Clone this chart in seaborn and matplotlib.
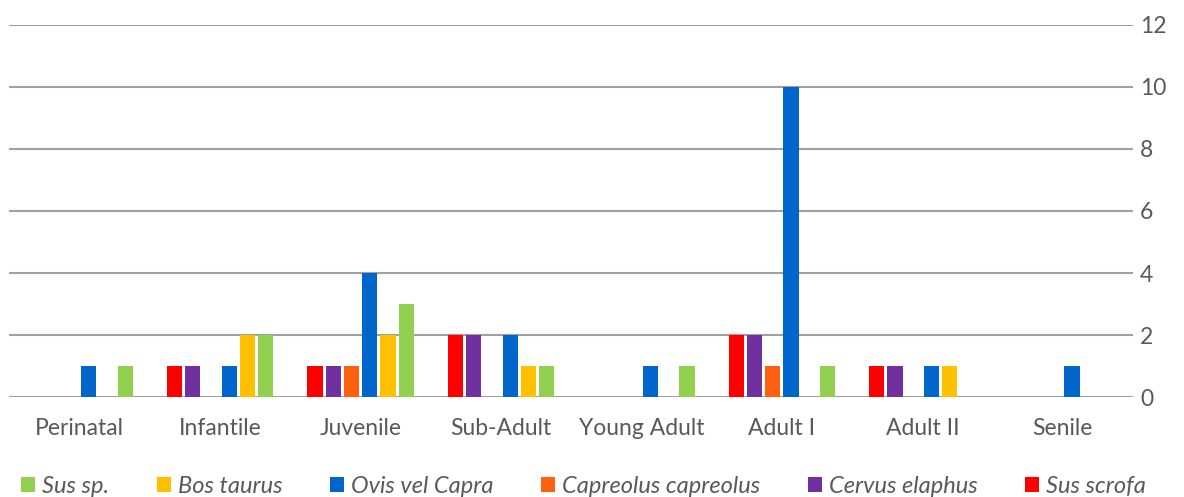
"""Age-at-death distribution by taxon - grouped bar chart."""

import matplotlib
matplotlib.use("Agg")
import matplotlib.pyplot as plt
import pandas as pd
import seaborn as sns

# stages along the x axis
stages = ["Perinatal", "Infantile", "Juvenile", "Sub-Adult",
          "Young Adult", "Adult I", "Adult II", "Senile"]

# counts per taxon (same order as stages)
sus_scrofa = [0, 1, 1, 2, 0, 2, 1, 0]
cervus_elaphus = [0, 1, 1, 2, 0, 2, 1, 0]
capreolus_capreolus = [0, 0, 1, 0, 0, 1, 0, 0]
ovis_vel_capra = [1, 1, 4, 2, 1, 10, 1, 1]
bos_taurus = [0, 2, 2, 1, 0, 0, 1, 0]
sus_sp = [1, 2, 3, 1, 1, 1, 0, 0]

taxa = ["Sus scrofa", "Cervus elaphus", "Capreolus capreolus",
        "Ovis vel Capra", "Bos taurus", "Sus sp."]
series = [sus_scrofa, cervus_elaphus, capreolus_capreolus,
          ovis_vel_capra, bos_taurus, sus_sp]
colors = ["#FF0000", "#7030A0", "#FF6010", "#0066CC", "#FFC000", "#92D050"]
y_ticks = [0, 2, 4, 6, 8, 10, 12]

rows = []
for taxon, vals in zip(taxa, series):
    for stage, v in zip(stages, vals):
        rows.append({"stage": stage, "taxon": taxon, "count": v})
df = pd.DataFrame(rows)

sns.set_style("white")
plt.rcParams["font.family"] = ["Lato", "DejaVu Sans"]
text_grey = "#595959"

fig = plt.figure(figsize=(11.84, 4.97), dpi=100)
ax = fig.add_axes([0.008, 0.201, 0.949, 0.749])

sns.barplot(data=df, x="stage", y="count", hue="taxon",
            order=stages, hue_order=taxa, palette=colors,
            width=0.78, gap=0.16, linewidth=0, saturation=1, ax=ax)

ax.set_ylim(0, 12)
ax.set_xlim(-0.5, len(stages) - 0.5)
ax.set_yticks(y_ticks)
ax.yaxis.tick_right()
ax.yaxis.grid(True, color="#A0A0A0", linewidth=1.5)
ax.set_axisbelow(True)
for s in ax.spines.values():
    s.set_visible(False)
ax.tick_params(axis="y", length=0, pad=5, labelsize=16.5, labelcolor=text_grey)
ax.tick_params(axis="x", length=0, pad=15, labelsize=16.5, labelcolor=text_grey)
ax.set_xlabel("")
ax.set_ylabel("")

# legend in reverse order, along the bottom
handles, labels = ax.get_legend_handles_labels()
ax.get_legend().remove()
leg = fig.legend(handles[::-1], labels[::-1], loc="lower left",
                 bbox_to_anchor=(0.0, -0.043), ncol=6, frameon=False,
                 handlelength=0.6, handleheight=0.6, handletextpad=0.3,
                 columnspacing=2.0, prop={"size": 17, "style": "italic"})
for t in leg.get_texts():
    t.set_color(text_grey)

fig.savefig("out.png", dpi=100)
